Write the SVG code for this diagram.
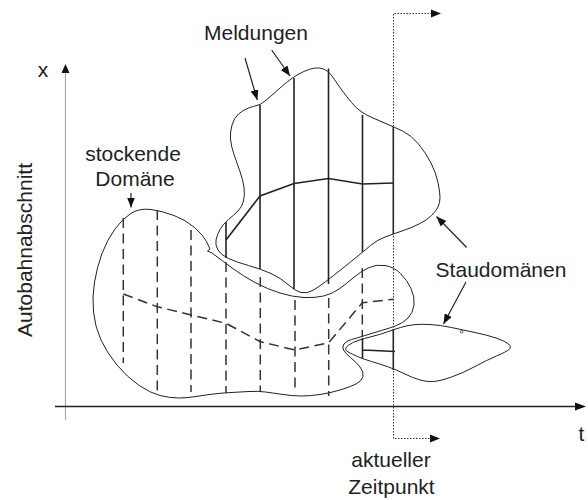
<svg xmlns="http://www.w3.org/2000/svg" width="588" height="500" viewBox="0 0 588 500">
<style>
text{font-family:"Liberation Sans",Arial,sans-serif;font-size:21px;fill:#222}
.outline{fill:none;stroke:#222;stroke-width:1}
.solid{fill:none;stroke:#222;stroke-width:1.6}
.dash{fill:none;stroke:#333;stroke-width:1.5;stroke-dasharray:10 5.5}
.arrow{fill:none;stroke:#222;stroke-width:1.2;marker-end:url(#ah)}
.dot{fill:none;stroke:#333;stroke-width:1;stroke-dasharray:1.5 1.5}
</style>
<defs>
<marker id="ah" markerUnits="userSpaceOnUse" markerWidth="11" markerHeight="8" refX="10" refY="4" orient="auto"><path d="M0,0 L10,4 L0,8 z" fill="#111"/></marker>
</defs>
<rect width="588" height="500" fill="#fff"/>
<g id="axes">
<line x1="65.5" y1="420" x2="65.5" y2="72" stroke="#aaa" stroke-width="1.2"/>
<path d="M65.5,64 L61.5,73 L69.5,73 z" fill="#111"/>
<line x1="55" y1="406.5" x2="576" y2="406.5" stroke="#222" stroke-width="1.3"/>
<path d="M586,406.5 L575,402.5 L575,410.5 z" fill="#111"/>
<text x="43" y="77" text-anchor="middle">x</text>
<text x="581.5" y="441" text-anchor="middle">t</text>
<text transform="translate(32,250) rotate(-90)" text-anchor="middle">Autobahnabschnitt</text>
</g>
<g id="stockende-domain">
<path class="outline" d="M131.5,213 Q140,208 151,209.5 Q162,211 174,215.5 Q186,220 194.5,227.5 Q203,235 206.5,241.5 L210,249 L207.5,251 L212,253 Q224,262 233.5,269 Q243,276 255,282.5 Q267,289 280,293 Q293,297 304,297.5 Q315,298 323.5,296 Q332,294 339,289 Q346,284 353,278 Q360,272 368,268 Q376,264 385,265.5 Q394,267 400.5,273.5 Q407,280 411,288.5 Q415,297 414,305 Q413,313 408,318 Q403,323 396.5,325.5 Q390,328 381.5,330.5 Q373,333 365,335.5 Q357,338 351.5,339.5 Q346,341 344,344 Q342,347 343.5,350 Q345,353 350.5,357.5 Q356,362 360,367 Q364,372 363,376.5 Q362,381 356,384 Q350,387 340,390 Q330,393 320,394.5 Q310,396 301.5,396 Q293,396 283,394.5 Q273,393 265.5,392 Q258,391 249,391.5 Q240,392 231,392.5 Q222,393 213.5,394 Q205,395 196,396.5 Q187,398 178.5,398 Q170,398 160,395.5 Q150,393 138.5,385 Q127,377 117,365 Q107,353 101,340 Q95,327 93.5,312 Q92,297 94.5,282 Q97,267 102,253.5 Q107,240 115,229 Q123,218 131.5,213 Z"/>
<path class="dash" d="M123.3,218 V363 M157.3,210 V392 M191,230 V392 M226,262 V393 M260.3,277 V392 M295,300 V390 M328.7,298 V396 M362.3,268 V337"/>
<polyline class="dash" points="123.3,294 157.3,306.7 191,315 226,323.3 260.3,341.7 295,350 328.7,342.7 362.3,302.7 393.3,299.3"/>
<text x="133" y="161" text-anchor="middle">stockende</text>
<text x="135" y="186" text-anchor="middle">Domäne</text>
</g>
<g id="meldungen-domain">
<path class="outline" d="M257,105.5 Q260,105 265,101 Q270,97 275.5,92 Q281,87 286.5,82.5 Q292,78 298,74.5 Q304,71 309.5,69.25 Q315,67.5 319.5,68 Q324,68.5 327.5,71.25 Q331,74 334.5,79.5 Q338,85 342.5,91 Q347,97 351.5,102.5 Q356,108 361,111.5 Q366,115 373,118 Q380,121 387,124 Q394,127 402.5,131 Q411,135 418.5,144 Q426,153 431,163 Q436,173 438,182.5 Q440,192 440,197.5 Q440,203 438,207 Q436,211 431.5,215.5 Q427,220 419,224 Q411,228 402,231 Q393,234 385,237 Q377,240 370.5,245.5 Q364,251 356,257.5 Q348,264 340.5,270 Q333,276 326.5,281 Q320,286 313.5,290 Q307,294 301,292.5 Q295,291 288,284.5 Q281,278 271,273.5 Q261,269 248.5,265.5 Q236,262 228.5,258.5 Q221,255 218,250 Q215,245 216,240 Q217,235 220,229.5 Q223,224 228.5,219.5 Q234,215 238,211 Q242,207 243.5,201 Q245,195 244,187.5 Q243,180 240,171.5 Q237,163 234,154.5 Q231,146 230.5,139 Q230,132 232,125 Q234,118 238.5,114 Q243,110 248.5,108 Q254,106 257,105.5 Z"/>
<path class="solid" d="M226,222 V258 M260,105 V269 M294,78 V289 M328.5,68.5 V284 M362.5,115 V252 M393.3,127 V234"/>
<polyline class="solid" points="226,240 260,196 294,183.5 328.5,178.5 362.5,184 393.3,183"/>
<text x="256" y="40" text-anchor="middle">Meldungen</text>
</g>
<g id="stau-domain">
<path class="outline" d="M345.5,349.5 Q345,348 348.5,345.25 Q352,342.5 358,340.5 Q364,338.5 372,336.5 Q380,334.5 387,332 Q394,329.5 400.5,327.5 Q407,325.5 413.5,324.75 Q420,324 430,324.5 Q440,325 451.5,327.5 Q463,330 475,332.5 Q487,335 496,338 Q505,341 508.5,344 Q512,347 509,349.5 Q506,352 496.5,356 Q487,360 475,366.5 Q463,373 451.5,377 Q440,381 433.5,381.5 Q427,382 420,380 Q413,378 405,374 Q397,370 388.5,367 Q380,364 371.5,361.5 Q363,359 357.5,356.5 Q352,354 349,352.5 Q346,351 345.5,349.5 Z"/>
<circle cx="461.7" cy="331.7" r="1.3" fill="none" stroke="#333" stroke-width="0.8"/>
<path class="solid" d="M362.5,338 V359 M393.3,329 V370 M363,350 L395,351.5"/>
<text x="501" y="277" text-anchor="middle">Staudomänen</text>
</g>
<g id="zeitpunkt">
<path class="dot" d="M432,13.5 H393.5 V438.5 H431"/>
<path d="M441,13.5 L431,9.5 L431,17.5 z" fill="#111"/>
<path d="M440,438.5 L430,434.5 L430,442.5 z" fill="#111"/>
<text x="391" y="467" text-anchor="middle">aktueller</text>
<text x="391.5" y="494" text-anchor="middle">Zeitpunkt</text>
</g>
<g id="connectors">
<line class="arrow" x1="245" y1="58" x2="257.3" y2="100"/>
<line class="arrow" x1="271.7" y1="50" x2="290" y2="76"/>
<line class="arrow" x1="131" y1="193" x2="131" y2="207.5"/>
<line class="arrow" x1="466.7" y1="247.5" x2="436.5" y2="216.5"/>
<line class="arrow" x1="466" y1="282" x2="443.5" y2="324"/>
</g>
</svg>
